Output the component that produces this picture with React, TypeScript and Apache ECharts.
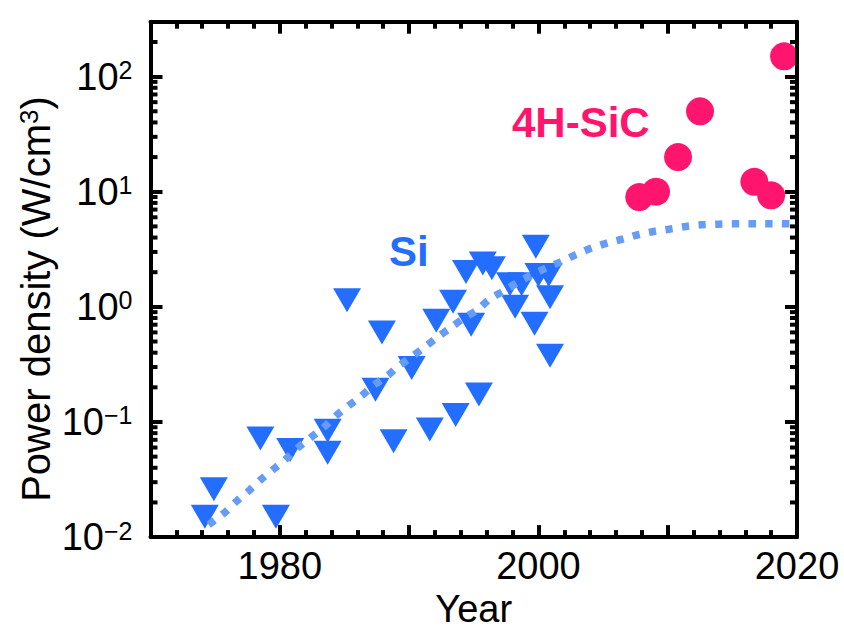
import React, { useEffect, useRef } from 'react';
import * as echarts from 'echarts';

// Si devices: [year, power density W/cm3]
const siPoints: [number, number][] = [
  [1974.9, 0.026], [1974.2, 0.015], [1978.5, 0.072], [1979.7, 0.015],
  [1980.8, 0.057], [1983.7, 0.054], [1983.7, 0.084], [1985.2, 1.14],
  [1987.9, 0.6], [1990.2, 0.294], [1987.4, 0.191], [1988.8, 0.068],
  [1991.6, 0.086], [1993.6, 0.115], [1995.4, 0.173], [1992.1, 0.757],
  [1993.4, 1.11], [1994.8, 0.698], [1999.8, 3.33], [1994.4, 2.01],
  [1995.7, 2.38], [1996.4, 2.16], [1997.8, 1.57], [1998.7, 1.57],
  [1998.2, 1.0], [2000.0, 1.89], [2000.8, 1.89], [2000.9, 1.21],
  [1999.7, 0.714], [2000.9, 0.377],
];

// 4H-SiC devices
const sicPoints: [number, number][] = [
  [2019.0, 150], [2012.5, 50], [2010.8, 20], [2007.8, 9],
  [2009.1, 10], [2016.7, 12.2], [2018.0, 9.3],
];

// Dotted trend curve
const fitCurve: [number, number][] = [
  [1974.5, 0.0128], [1975.8, 0.0166], [1976.7, 0.0207], [1977.7, 0.0258],
  [1978.6, 0.032], [1979.6, 0.0396], [1980.5, 0.048], [1981.4, 0.0597],
  [1982.4, 0.0734], [1983.4, 0.09], [1984.3, 0.112], [1985.3, 0.138],
  [1986.3, 0.168], [1987.2, 0.206], [1988.3, 0.251], [1989.2, 0.306],
  [1990.2, 0.369], [1991.2, 0.447], [1992.2, 0.546], [1993.2, 0.658],
  [1994.2, 0.792], [1995.3, 0.948], [1996.2, 1.16], [1997.4, 1.39],
  [1998.4, 1.63], [1999.5, 1.9], [2000.6, 2.18], [2001.8, 2.48],
  [2002.9, 2.84], [2004.1, 3.24], [2005.3, 3.58], [2006.5, 3.88],
  [2007.7, 4.23], [2008.9, 4.52], [2010.1, 4.73], [2011.4, 4.99],
  [2012.6, 5.16], [2013.9, 5.23], [2015.1, 5.26], [2017.6, 5.27],
  [2020.0, 5.27],
];

const xLabelYears = [1980, 2000, 2020];
const yMinorTicks = [
  0.02, 0.03, 0.04, 0.05, 0.06, 0.07, 0.08, 0.09,
  0.2, 0.3, 0.4, 0.5, 0.6, 0.7, 0.8, 0.9,
  2, 3, 4, 5, 6, 7, 8, 9,
  20, 30, 40, 50, 60, 70, 80, 90,
  200,
];

const X_MIN = 1970;
const X_MAX = 2020;
const Y_MIN = 0.01;
const Y_MAX = 300;

const FONT = '"Liberation Sans", Arial, Helvetica, sans-serif';
const SI_COLOR = '#246eff';
const SIC_COLOR = '#ff146e';
const FIT_COLOR = '#679cf6';

export default function App() {
  const ref = useRef<HTMLDivElement>(null);

  useEffect(() => {
    if (!ref.current) return;
    const chart = echarts.init(ref.current, null, { renderer: 'svg' });

    const axisLine = { show: true, onZero: false, lineStyle: { color: '#000', width: 4 } };
    const majorTick = { show: true, inside: true, length: 12, lineStyle: { color: '#000', width: 4 } };
    const minorTick = { show: true, splitNumber: 5, length: 7, lineStyle: { color: '#000', width: 4 } };

    const yLabelFormatter = (v: number) => {
      const lg = Math.log10(v);
      const e = Math.round(lg);
      if (Math.abs(lg - e) > 1e-6) return '';
      const s = e < 0 ? '\u2212' + String(-e) : String(e);
      return '10{sup|' + s + '}';
    };

    chart.setOption({
      animation: false,
      backgroundColor: '#ffffff',
      grid: { left: 150.5, top: 21.7, width: 646.5, height: 516.6, containLabel: false },
      xAxis: [
        {
          type: 'value',
          min: X_MIN,
          max: X_MAX,
          interval: 10,
          position: 'bottom',
          axisLine,
          axisTick: majorTick,
          minorTick,
          splitLine: { show: false },
          minorSplitLine: { show: false },
          axisLabel: {
            margin: 10,
            fontFamily: FONT,
            fontSize: 38,
            color: '#000',
            formatter: (v: number) => (xLabelYears.includes(v) ? String(v) : ''),
          },
          name: 'Year',
          nameLocation: 'middle',
          nameGap: 51,
          nameTextStyle: { fontFamily: FONT, fontSize: 38, color: '#000' },
          z: 10,
        },
        {
          type: 'value',
          min: X_MIN,
          max: X_MAX,
          interval: 10,
          position: 'top',
          axisLine,
          axisTick: majorTick,
          minorTick,
          splitLine: { show: false },
          minorSplitLine: { show: false },
          axisLabel: { show: false },
          z: 10,
        },
      ],
      yAxis: [
        {
          type: 'log',
          logBase: 10,
          min: Y_MIN,
          max: Y_MAX,
          position: 'left',
          axisLine,
          axisTick: majorTick,
          splitLine: { show: false },
          axisLabel: {
            margin: 18,
            fontFamily: FONT,
            fontSize: 38,
            color: '#000',
            formatter: yLabelFormatter,
            rich: {
              sup: { fontFamily: FONT, fontSize: 25, color: '#000', verticalAlign: 'top', lineHeight: 25 },
            },
          },
          z: 10,
        },
        {
          type: 'log',
          logBase: 10,
          min: Y_MIN,
          max: Y_MAX,
          position: 'right',
          axisLine,
          axisTick: majorTick,
          splitLine: { show: false },
          axisLabel: { show: false },
          z: 10,
        },
      ],
      graphic: [
        {
          type: 'text',
          x: 36,
          y: 299,
          rotation: Math.PI / 2,
          style: {
            text: 'Power density (W/cm{sup|3})',
            font: `40px ${FONT}`,
            fill: '#000',
            align: 'center',
            verticalAlign: 'middle',
            rich: {
              sup: { fontSize: 26, fontFamily: FONT, fill: '#000', verticalAlign: 'top', lineHeight: 26 },
            },
          },
        },
        {
          type: 'text',
          x: 389,
          y: 251,
          z: 20,
          style: {
            text: 'Si',
            font: `bold 42px ${FONT}`,
            fill: SI_COLOR,
            align: 'left',
            verticalAlign: 'middle',
          },
        },
        {
          type: 'text',
          x: 512,
          y: 122.5,
          z: 20,
          style: {
            text: '4H-SiC',
            font: `bold 42px ${FONT}`,
            fill: SIC_COLOR,
            align: 'left',
            verticalAlign: 'middle',
          },
        },
      ],
      series: [
        {
          type: 'scatter',
          name: 'Si',
          data: siPoints,
          symbol: 'triangle',
          symbolRotate: 180,
          symbolSize: [28, 24],
          itemStyle: { color: SI_COLOR, opacity: 1 },
          clip: false,
          z: 2,
        },
        {
          type: 'line',
          name: 'Si trend',
          data: fitCurve,
          showSymbol: false,
          symbol: 'none',
          smooth: 0.3,
          lineStyle: { color: FIT_COLOR, width: 7.5, type: [7.5, 9.2], cap: 'butt' },
          z: 3,
        },
        {
          type: 'scatter',
          name: '4H-SiC',
          data: sicPoints,
          symbol: 'circle',
          symbolSize: 28,
          itemStyle: { color: SIC_COLOR, opacity: 1 },
          clip: false,
          z: 4,
        },
        {
          type: 'custom',
          name: 'y minor ticks',
          data: yMinorTicks.map((v) => [X_MIN, v]),
          silent: true,
          z: 11,
          renderItem: (params: any, api: any) => {
            const v = api.value(1);
            const pl = api.coord([X_MIN, v]);
            const pr = api.coord([X_MAX, v]);
            return {
              type: 'group',
              children: [
                {
                  type: 'line',
                  shape: { x1: pl[0], y1: pl[1], x2: pl[0] + 7, y2: pl[1] },
                  style: { stroke: '#000', lineWidth: 4 },
                },
                {
                  type: 'line',
                  shape: { x1: pr[0], y1: pr[1], x2: pr[0] - 7, y2: pr[1] },
                  style: { stroke: '#000', lineWidth: 4 },
                },
              ],
            };
          },
        },
      ],
    });

    return () => chart.dispose();
  }, []);

  return (
    <div
      ref={ref}
      style={{ position: 'absolute', left: 0, top: 0, width: 844, height: 633 }}
    />
  );
}
